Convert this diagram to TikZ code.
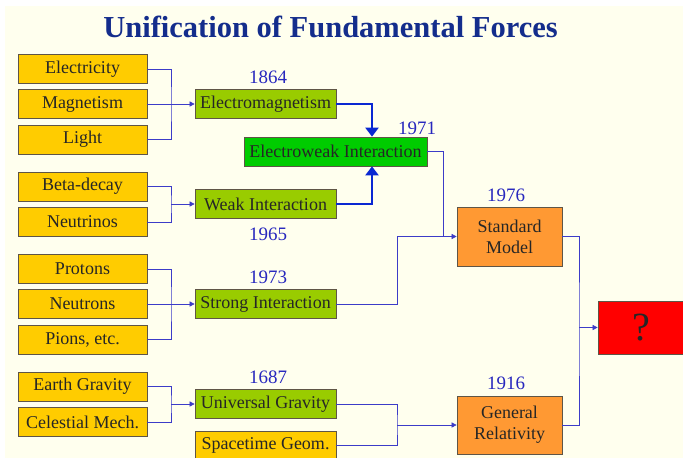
\documentclass[tikz,border=0pt]{standalone}
\usepackage{fontspec}
\setmainfont{Liberation Serif}
\usetikzlibrary{arrows.meta}

\definecolor{bgcream}{RGB}{255,255,238}
\definecolor{boxyellow}{RGB}{255,204,0}
\definecolor{boxlime}{RGB}{153,204,0}
\definecolor{boxgreen}{RGB}{0,204,0}
\definecolor{boxorange}{RGB}{255,153,51}
\definecolor{boxred}{RGB}{255,0,0}
\definecolor{boxedge}{RGB}{95,85,70}
\definecolor{yearblue}{RGB}{40,40,190}
\definecolor{titleblue}{RGB}{20,45,140}
\definecolor{linkblue}{RGB}{60,60,200}
\definecolor{boldblue}{RGB}{10,40,210}

\tikzset{
	box/.style={draw=boxedge, line width=0.7pt, inner sep=0pt, minimum height=29pt,
		font=\fontsize{18}{21}\selectfont, text=black!85, align=center},
	src/.style={box, fill=boxyellow, minimum width=129pt},
	force/.style={box, fill=boxlime, minimum width=141pt},
	year/.style={text=yearblue, font=\fontsize{19}{21}\selectfont},
	link/.style={draw=linkblue, line width=0.6pt},
	arr/.style={link, -{Triangle[length=5pt,width=5pt]}},
	bigarr/.style={draw=boldblue, line width=2.5pt, -{Triangle[length=9pt,width=13pt]}},
}

\begin{document}
\begin{tikzpicture}[x=1pt, y=-1pt]
	% Page
	\useasboundingbox (0,0) rectangle (683,458);
	\fill[white] (0,0) rectangle (683,458);
	\fill[bgcream] (5,6) rectangle (683,458);
	
	% Title
	\node (title) at (330.5,27) [text=titleblue, font=\fontsize{30.5}{32}\selectfont\bfseries] {Unification of Fundamental Forces};
	
	% Sources (left column)
	\node[src] (elec) at (82.5,69) {Electricity};
	\node[src] (magn) at (82.5,104) {Magnetism};
	\node[src] (light) at (82.5,139.5) {Light};
	
	\node[src] (beta) at (82.5,186.5) {Beta-decay};
	\node[src] (neut) at (82.5,222) {Neutrinos};
	
	\node[src] (prot) at (82.5,269) {Protons};
	\node[src] (ntr) at (82.5,304) {Neutrons};
	\node[src] (pion) at (82.5,339.5) {Pions, etc.};
	
	\node[src] (earth) at (82.5,386.5) {Earth Gravity};
	\node[src] (cel) at (82.5,422) {Celestial Mech.};
	
	% Forces (middle column)
	\node[force] (em) at (265.5,104) {Electromagnetism};
	\node[force] (weak) at (265.5,204) {Weak Interaction};
	\node[force] (strong) at (265.5,304) {Strong Interaction};
	\node[force] (grav) at (265.5,404) {Universal Gravity};
	\node[src, minimum width=141pt] (geom) at (265.5,445.5) {Spacetime Geom.};
	
	\node[box, fill=boxgreen, minimum width=183pt] (ew) at (335.5,151.5) {Electroweak Interaction};
	
	% Theories (right)
	\node[box, fill=boxorange, minimum width=105pt, minimum height=59pt] (sm) at (509.5,236.5) {Standard\\Model};
	\node[box, fill=boxorange, minimum width=105pt, minimum height=58pt] (gr) at (509.5,425) {General\\Relativity};
	\node[box, fill=boxred, minimum width=87pt, minimum height=53pt, font=\fontsize{40}{42}\selectfont] (q) at (641.5,327.5) {?};
	
	% Years
	\node[year] (y1864) at (268,77) {1864};
	\node[year] (y1971) at (417,128) {1971};
	\node[year] (y1965) at (268,234) {1965};
	\node[year] (y1973) at (268,277) {1973};
	\node[year] (y1687) at (268,377) {1687};
	\node[year] (y1976) at (506,195) {1976};
	\node[year] (y1916) at (506,383) {1916};
	
	% Junction points
	\coordinate (j1) at (171,104);
	\coordinate (j2) at (171,204);
	\coordinate (j3) at (171,304);
	\coordinate (j4) at (171,404);
	\coordinate (j5) at (443,236.5);
	\coordinate (j6) at (397,236.5);
	\coordinate (j7) at (397,425);
	\coordinate (j8) at (579,327.5);
	
	% Brackets into the forces
	\draw[link] (elec.east) -| (j1) |- (light.east);
	\draw[arr] (magn) -- (em);
	\draw[link] (beta.east) -| (j2) |- (neut.east);
	\draw[arr] (j2) -- (weak);
	\draw[link] (prot.east) -| (j3) |- (pion.east);
	\draw[arr] (ntr) -- (strong);
	\draw[link] (earth.east) -| (j4) |- (cel.east);
	\draw[arr] (j4) -- (grav);
	
	% Electroweak merge
	\draw[bigarr] (em.east) -| ([xshift=36.5pt]ew.north);
	\draw[bigarr] (weak.east) -| ([xshift=36.5pt]ew.south);
	
	% Into the theories
	\draw[link] (ew.east) -| (j5);
	\draw[link] (strong.east) -| (j6);
	\draw[arr] (j6) -- (sm);
	\draw[link] (grav.east) -| (j7) |- (geom.east);
	\draw[arr] (j7) -- (gr);
	
	% Final step
	\draw[link] (sm.east) -| (j8) |- (gr.east);
	\draw[arr] (j8) -- (q);
\end{tikzpicture}
\end{document}
